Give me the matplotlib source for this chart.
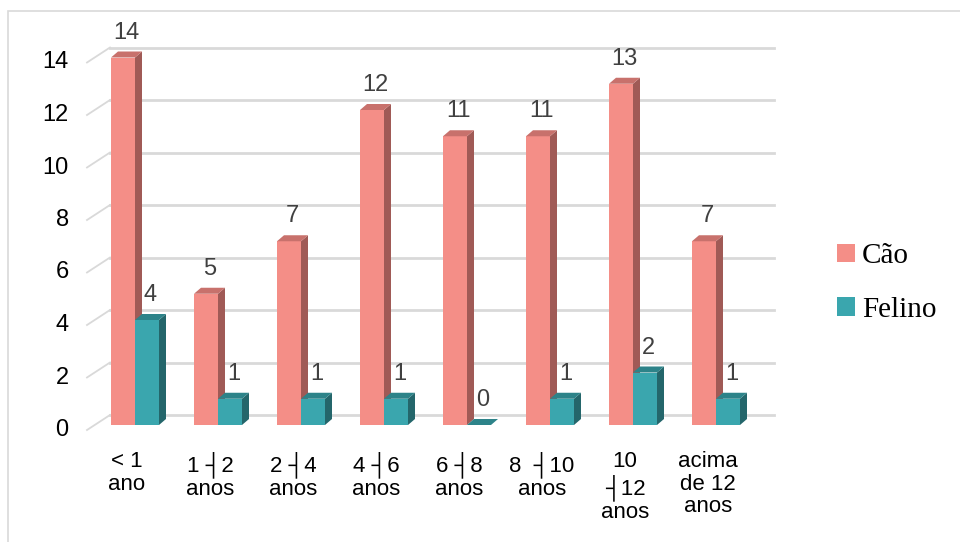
import matplotlib
matplotlib.use("Agg")
import matplotlib.pyplot as plt
from matplotlib.patches import Polygon, Patch, Rectangle

# data
categories = ["< 1\nano", "1 ┤2\nanos", "2 ┤4\nanos", "4 ┤6\nanos",
              "6 ┤8\nanos", "8  ┤10\nanos", "10\n┤12\nanos", "acima\nde 12\nanos"]
cao = [14, 5, 7, 12, 11, 11, 13, 7]
felino = [4, 1, 1, 1, 0, 1, 2, 1]
series_names = ["Cão", "Felino"]
yticks = [0, 2, 4, 6, 8, 10, 12, 14]

# colours (front, side, top)
cao_cols = ("#F48E87", "#A05A56", "#C8716C")
fel_cols = ("#3AA6AE", "#24666B", "#2D8389")
grid_col = "#D9D9D9"

W, H = 960, 542
SX, SY = 83.0, 26.25          # pixels per category / per unit
x0_px, y0_px = 135, 425       # pixel of category 0 / value 0 (front of bars)

bar_w = 24 / SX
dx_bar, dy_bar = 7 / SX, 6 / SY
back_dy = 10 / SY
back_x0, back_x1 = (110 - x0_px) / SX, (774 - x0_px) / SX
front_x, front_dy = (87 - x0_px) / SX, -5 / SY

fig = plt.figure(figsize=(W / 100, H / 100), dpi=100)
ax_l, ax_r, ax_t, ax_b = 40, 820, 15, 540
ax = fig.add_axes([ax_l / W, 1 - ax_b / H, (ax_r - ax_l) / W, (ax_b - ax_t) / H])
ax.set_xlim((ax_l - x0_px) / SX, (ax_r - x0_px) / SX)
ax.set_ylim((y0_px - ax_b) / SY, (y0_px - ax_t) / SY)
ax.axis("off")

# chart border
fig.add_artist(Rectangle((8 / W, -0.01), 1.0, 1 - 11 / H + 0.01, transform=fig.transFigure,
                         fill=False, edgecolor=grid_col, linewidth=1.2))

# back wall gridlines + floor diagonals
for v in yticks:
    ax.plot([back_x0, back_x1], [v + back_dy, v + back_dy], color=grid_col, lw=2, zorder=1)
    ax.plot([front_x, back_x0], [v + front_dy, v + back_dy], color=grid_col, lw=1.3, zorder=1)
    ax.text(front_x - 0.22, v + front_dy, str(v), ha="right", va="center",
            fontsize=17, family="Liberation Sans", color="#000000")


def bar3d(x, h, cols):
    front, side, top = cols
    ax.bar(x, h, width=bar_w, align="edge", color=front, edgecolor="none", zorder=3)
    ax.add_patch(Polygon([(x + bar_w, 0), (x + bar_w + dx_bar, dy_bar),
                          (x + bar_w + dx_bar, h + dy_bar), (x + bar_w, h)],
                         closed=True, facecolor=side, edgecolor="none", zorder=3))
    ax.add_patch(Polygon([(x, h), (x + dx_bar, h + dy_bar),
                          (x + bar_w + dx_bar, h + dy_bar), (x + bar_w, h)],
                         closed=True, facecolor=top, edgecolor="none", zorder=3))


for i, (c, f) in enumerate(zip(cao, felino)):
    bar3d(i - bar_w, c, cao_cols)
    bar3d(i, f, fel_cols)
    ax.text(i - bar_w / 2 + dx_bar / 2, c + dy_bar + 0.3, str(c), ha="center", va="bottom",
            fontsize=17, family="Liberation Sans", color="#404040", zorder=4)
    ax.text(i + bar_w / 2 + dx_bar / 2, f + dy_bar + 0.3, str(f), ha="center", va="bottom",
            fontsize=17, family="Liberation Sans", color="#404040", zorder=4)
    ax.text(i - 8 / SX, (y0_px - 451) / SY, categories[i], ha="center", va="top",
            fontsize=16, family=["Liberation Sans", "DejaVu Sans"], color="#000000",
            linespacing=1.1)

handles = [Patch(facecolor=cao_cols[0]), Patch(facecolor=fel_cols[0])]
fig.legend(handles, series_names, loc="center left", bbox_to_anchor=(811 / W, 1 - 283 / H),
           frameon=False, prop={"family": "Liberation Serif", "size": 21},
           handlelength=0.6, handleheight=0.6, handletextpad=0.25, labelspacing=0.95)

fig.savefig("out.png", dpi=100, facecolor="white")
